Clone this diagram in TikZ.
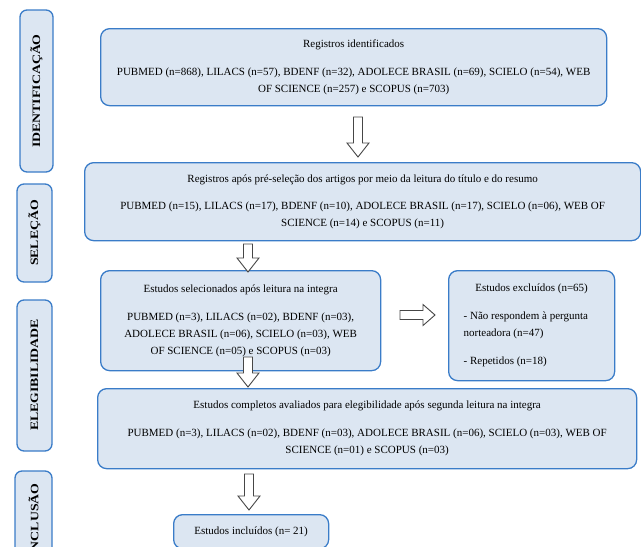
\documentclass[tikz,border=0pt]{standalone}
\usepackage{fontspec}
\setmainfont{Liberation Serif}
\definecolor{boxblue}{RGB}{58,124,200}
\definecolor{boxfill}{RGB}{220,230,242}
\definecolor{arrgray}{RGB}{70,70,70}
\newcommand{\stagelabel}[1]{\scalebox{1}[0.82]{#1}}
\tikzset{
  x=1pt, y=-1pt,
  box/.style={draw=boxblue, fill=boxfill, line width=1.3pt, rounded corners=9pt, anchor=north west, inner sep=0pt},
  stagebox/.style={draw=boxblue, fill=boxfill, line width=1.3pt, rounded corners=7pt},
  stagetext/.style={rotate=90, font=\fontsize{13.8}{14}\selectfont\bfseries},
  bodytext/.style={font=\fontsize{11}{17}\selectfont, align=center},
  arrowline/.style={draw=arrgray, fill=white, line width=0.9pt, line join=miter},
  pics/downarr/.style args={#1}{code={
    \draw[arrowline] (-4.5,0) -- (-4.5,#1-14) -- (-11,#1-14) -- (0,#1) -- (11,#1-14) -- (4.5,#1-14) -- (4.5,0) -- cycle;}},
  pics/rightarr/.style={code={
    \draw[arrowline] (0,-4.5) -- (23,-4.5) -- (23,-10.5) -- (35,0) -- (23,10.5) -- (23,4.5) -- (0,4.5) -- cycle;}}
}
\begin{document}
\begin{tikzpicture}
\useasboundingbox (0,0) rectangle (641,547);
\clip (0,0) rectangle (641,547);

% stage labels
\draw[stagebox] (20,10) rectangle (53,172);
\node[stagetext] (sId) at (36.5,91) {\stagelabel{IDENTIFICAÇÃO}};
\draw[stagebox] (17,184) rectangle (52,282);
\node[stagetext] (sSel) at (34.5,233) {\stagelabel{SELEÇÃO}};
\draw[stagebox] (17,300) rectangle (52,451);
\node[stagetext] (sEleg) at (34.5,375) {\stagelabel{ELEGIBILIDADE}};
\draw[stagebox] (15,471) rectangle (52,620);
\node[stagetext] (sInc) at (33.5,520) {\stagelabel{INCLUSÃO}};

% main boxes
\node[box, minimum width=506, minimum height=77] (b1) at (100,28) {};
\node[bodytext] (t1) at (b1.center) {Registros identificados\\[11pt]
PUBMED (n=868), LILACS (n=57), BDENF (n=32), ADOLECE BRASIL (n=69), SCIELO (n=54), WEB\\
OF SCIENCE (n=257) e SCOPUS (n=703)};

\node[box, minimum width=556, minimum height=78] (b2) at (84,162) {};
\node[bodytext] (t2) at (b2.center) {Registros após pré-seleção dos artigos por meio da leitura do título e do resumo\\[10pt]
PUBMED (n=15), LILACS (n=17), BDENF (n=10), ADOLECE BRASIL (n=17), SCIELO (n=06), WEB OF\\
SCIENCE (n=14) e SCOPUS (n=11)};

\node[box, minimum width=280, minimum height=100] (b3) at (100,270) {};
\node[bodytext] (t3) at (b3.center) {Estudos selecionados após leitura na integra\\[11pt]
PUBMED (n=3), LILACS (n=02), BDENF (n=03),\\
ADOLECE BRASIL (n=06), SCIELO (n=03), WEB\\
OF SCIENCE (n=05) e SCOPUS (n=03)};

\node[box, minimum width=166, minimum height=110] (b4) at (448,270) {};
\node[bodytext, align=left] (t4) at (b4.center) {\makebox[136pt]{Estudos excluídos (n=65)}\\[11pt]
- Não respondem à pergunta\\
norteadora (n=47)\\[11pt]
- Repetidos (n=18)};

\node[box, minimum width=539, minimum height=80] (b5) at (97,388) {};
\node[bodytext] (t5) at (b5.center) {Estudos completos avaliados para elegibilidade após segunda leitura na integra\\[11pt]
PUBMED (n=3), LILACS (n=02), BDENF (n=03), ADOLECE BRASIL (n=06), SCIELO (n=03), WEB OF\\
SCIENCE (n=01) e SCOPUS (n=03)};

\node[box, minimum width=155, minimum height=34] (b6) at (173,514) {};
\node[bodytext] (t6) at (b6.center) {Estudos incluídos (n= 21)};

% block arrows
\pic at (358,117) {downarr=40};
\pic at (248,244) {downarr=28};
\pic at (248,357) {downarr=30};
\pic at (249,474) {downarr=36};
\pic at (400,315) {rightarr};
\end{tikzpicture}
\end{document}
